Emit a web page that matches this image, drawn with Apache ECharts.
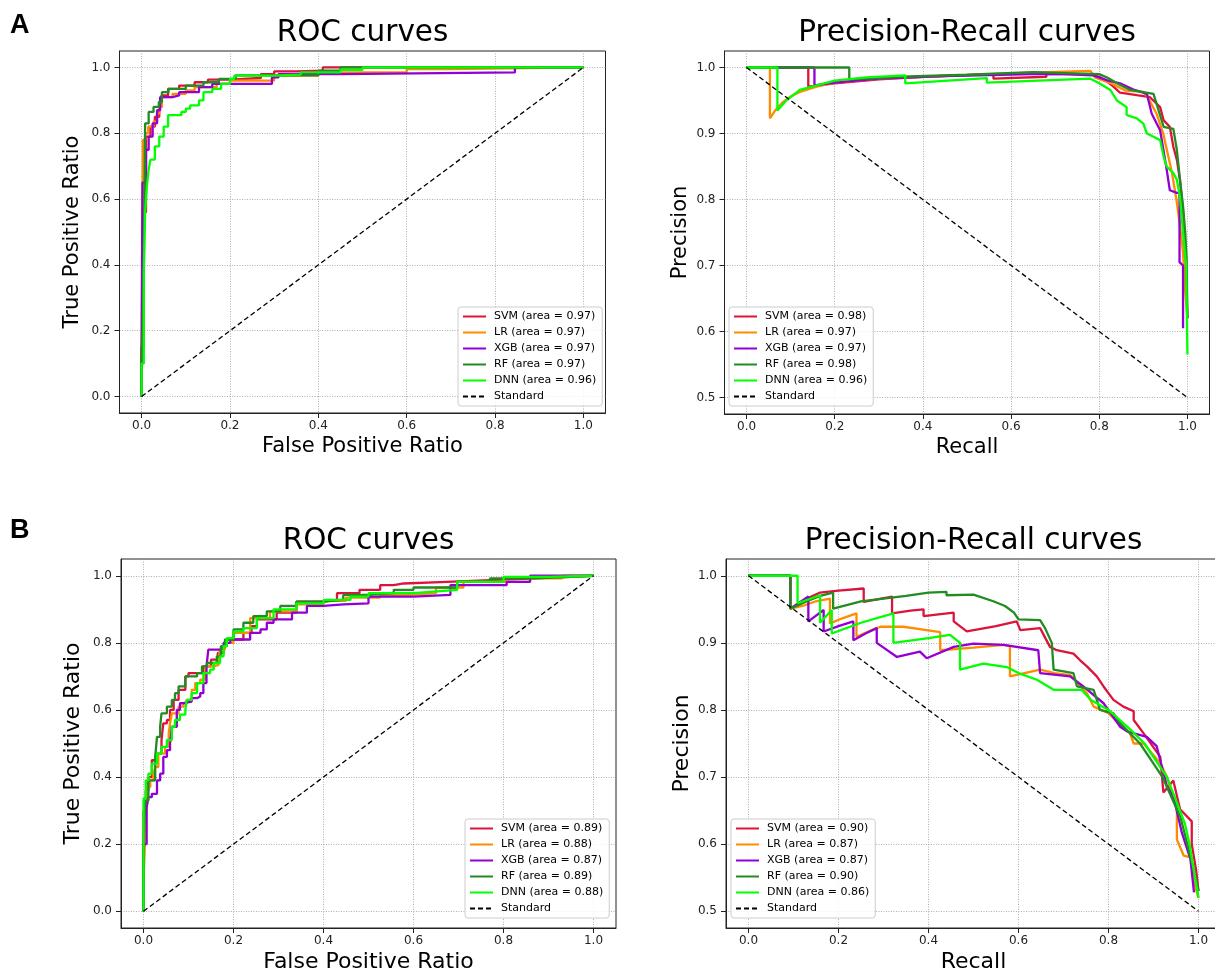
<!DOCTYPE html>
<html>
<head>
<meta charset="utf-8">
<title>ROC / PR curves</title>
<script src="https://cdn.jsdelivr.net/npm/echarts@6/dist/echarts.min.js"></script>
<style>
  html, body { margin: 0; padding: 0; background: #fff; }
  #main { width: 1215px; height: 975px; }
</style>
</head>
<body>
<div id="main"></div>
<script>
// model names and their areas per panel
const models = ['SVM', 'LR', 'XGB', 'RF', 'DNN']
const aucRocA = [0.97, 0.97, 0.97, 0.97, 0.96]
const aucPrA = [0.98, 0.97, 0.97, 0.98, 0.96]
const aucRocB = [0.89, 0.88, 0.87, 0.89, 0.88]
const aucPrB = [0.90, 0.87, 0.87, 0.90, 0.86]

const xTicks = [0, 0.2, 0.4, 0.6, 0.8, 1.0]
const rocTicks = [0, 0.2, 0.4, 0.6, 0.8, 1.0]
const prTicks = [0.5, 0.6, 0.7, 0.8, 0.9, 1.0]

const rocDiagonal = [[0, 0], [1, 1]]
const prDiagonal = [[0, 1], [1, 0.5]]

// --- A: ROC (fpr, tpr) riser tops, drawn as steps
const rocA_SVM = [[0, 0], [0, 0.15], [0.005, 0.56], [0.01, 0.79], [0.02, 0.82], [0.03, 0.85], [0.04, 0.88], [0.045, 0.915], [0.06, 0.935], [0.085, 0.945], [0.12, 0.955], [0.15, 0.963], [0.2, 0.968], [0.27, 0.98], [0.3, 0.988], [0.35, 0.99], [0.41, 1], [1, 1]]
const rocA_LR = [[0, 0], [0, 0.05], [0.003, 0.78], [0.008, 0.8], [0.015, 0.82], [0.027, 0.835], [0.035, 0.86], [0.04, 0.88], [0.046, 0.91], [0.07, 0.92], [0.1, 0.93], [0.12, 0.94], [0.17, 0.95], [0.2, 0.96], [0.3, 0.975], [0.4, 0.985], [0.6, 0.995], [0.7, 1], [1, 1]]
const rocA_XGB = [[0, 0], [0, 0.15], [0.002, 0.65], [0.01, 0.75], [0.016, 0.79], [0.025, 0.83], [0.035, 0.87], [0.042, 0.91], [0.07, 0.915], [0.085, 0.925], [0.13, 0.94], [0.16, 0.95], [0.295, 0.97], [0.31, 0.98], [0.45, 0.985], [0.845, 1], [1, 1]]
const rocA_RF = [[0, 0], [0, 0.14], [0.002, 0.19], [0.005, 0.38], [0.008, 0.83], [0.016, 0.865], [0.027, 0.88], [0.039, 0.895], [0.046, 0.925], [0.061, 0.935], [0.1, 0.945], [0.14, 0.955], [0.175, 0.965], [0.213, 0.976], [0.4, 0.99], [0.45, 1], [1, 1]]
const rocA_DNN = [[0, 0], [0, 0.1], [0.005, 0.38], [0.008, 0.56], [0.012, 0.64], [0.016, 0.69], [0.02, 0.72], [0.03, 0.76], [0.04, 0.79], [0.05, 0.82], [0.06, 0.855], [0.09, 0.865], [0.1, 0.875], [0.11, 0.885], [0.13, 0.9], [0.14, 0.925], [0.16, 0.935], [0.18, 0.95], [0.2, 0.965], [0.21, 0.975], [0.3, 0.978], [0.36, 0.985], [0.45, 0.993], [0.5, 1], [1, 1]]

// --- A: precision-recall (recall, precision)
const prA_SVM = [[0, 1], [0.14, 1], [0.14, 0.971], [0.2, 0.976], [0.3, 0.982], [0.4, 0.986], [0.56, 0.99], [0.56, 0.983], [0.68, 0.986], [0.68, 0.99], [0.78, 0.99], [0.8, 0.986], [0.815, 0.98], [0.832, 0.971], [0.847, 0.962], [0.885, 0.958], [0.915, 0.955], [0.938, 0.94], [0.946, 0.92], [0.96, 0.91], [0.968, 0.88], [0.976, 0.86], [0.983, 0.83], [0.99, 0.783], [0.995, 0.72], [0.998, 0.66], [1, 0.62]]
const prA_LR = [[0, 1], [0.053, 1], [0.053, 0.923], [0.065, 0.935], [0.083, 0.948], [0.1, 0.956], [0.121, 0.963], [0.159, 0.971], [0.2, 0.977], [0.3, 0.983], [0.4, 0.986], [0.55, 0.99], [0.68, 0.993], [0.78, 0.995], [0.79, 0.985], [0.83, 0.975], [0.86, 0.965], [0.9, 0.963], [0.91, 0.955], [0.93, 0.93], [0.945, 0.9], [0.955, 0.87], [0.965, 0.84], [0.975, 0.8], [0.983, 0.76], [0.99, 0.72], [0.995, 0.66], [1, 0.62]]
const prA_XGB = [[0, 1], [0.154, 1], [0.154, 0.973], [0.2, 0.977], [0.3, 0.983], [0.45, 0.987], [0.65, 0.99], [0.65, 0.987], [0.72, 0.99], [0.786, 0.988], [0.82, 0.98], [0.847, 0.976], [0.88, 0.966], [0.908, 0.96], [0.919, 0.93], [0.938, 0.905], [0.953, 0.845], [0.96, 0.814], [0.976, 0.81], [0.982, 0.81], [0.982, 0.705], [0.99, 0.7], [0.99, 0.605]]
const prA_RF = [[0, 1], [0.233, 1], [0.233, 0.982], [0.35, 0.986], [0.5, 0.989], [0.65, 0.993], [0.8, 0.99], [0.82, 0.984], [0.84, 0.976], [0.87, 0.966], [0.923, 0.96], [0.93, 0.945], [0.946, 0.91], [0.968, 0.907], [0.976, 0.875], [0.983, 0.83], [0.99, 0.79], [0.995, 0.75], [0.998, 0.71], [1, 0.62]]
const prA_DNN = [[0, 1], [0.07, 1], [0.07, 0.935], [0.09, 0.95], [0.121, 0.966], [0.159, 0.973], [0.2, 0.98], [0.272, 0.985], [0.36, 0.988], [0.36, 0.976], [0.545, 0.984], [0.545, 0.977], [0.78, 0.983], [0.8, 0.976], [0.825, 0.966], [0.84, 0.95], [0.862, 0.94], [0.862, 0.928], [0.885, 0.923], [0.9, 0.915], [0.908, 0.9], [0.923, 0.895], [0.938, 0.89], [0.946, 0.865], [0.953, 0.85], [0.968, 0.84], [0.976, 0.83], [0.983, 0.804], [0.99, 0.75], [0.997, 0.7], [1, 0.565]]

// --- B: ROC riser tops
const rocB_SVM = [[0, 0], [0, 0.3], [0.005, 0.36], [0.011, 0.4], [0.0185, 0.45], [0.03, 0.47], [0.04, 0.51], [0.044, 0.56], [0.052, 0.57], [0.059, 0.6], [0.067, 0.63], [0.078, 0.66], [0.093, 0.7], [0.1, 0.71], [0.133, 0.73], [0.15, 0.75], [0.165, 0.77], [0.178, 0.79], [0.185, 0.81], [0.222, 0.83], [0.24, 0.85], [0.252, 0.87], [0.296, 0.89], [0.34, 0.923], [0.4, 0.928], [0.43, 0.948], [0.48, 0.958], [0.526, 0.972], [0.556, 0.977], [0.578, 0.982], [0.674, 0.987], [0.77, 0.992], [0.867, 0.997], [0.95, 1], [1, 1]]
const rocB_LR = [[0, 0], [0, 0.09], [0.004, 0.23], [0.008, 0.37], [0.015, 0.39], [0.022, 0.41], [0.026, 0.43], [0.033, 0.47], [0.048, 0.49], [0.056, 0.53], [0.059, 0.56], [0.063, 0.59], [0.078, 0.61], [0.089, 0.62], [0.096, 0.63], [0.107, 0.66], [0.115, 0.68], [0.126, 0.69], [0.137, 0.73], [0.156, 0.734], [0.167, 0.755], [0.17, 0.78], [0.181, 0.8], [0.2, 0.83], [0.237, 0.874], [0.281, 0.894], [0.34, 0.915], [0.4, 0.925], [0.45, 0.935], [0.526, 0.943], [0.593, 0.948], [0.65, 0.965], [0.711, 0.982], [0.859, 0.992], [0.93, 1], [1, 1]]
const rocB_XGB = [[0, 0], [0, 0.2], [0.007, 0.31], [0.011, 0.34], [0.0185, 0.35], [0.03, 0.39], [0.037, 0.41], [0.044, 0.46], [0.052, 0.48], [0.059, 0.5], [0.063, 0.55], [0.074, 0.6], [0.081, 0.62], [0.089, 0.625], [0.107, 0.635], [0.119, 0.64], [0.126, 0.65], [0.133, 0.68], [0.14, 0.73], [0.144, 0.78], [0.17, 0.785], [0.178, 0.8], [0.193, 0.81], [0.237, 0.83], [0.26, 0.84], [0.274, 0.86], [0.289, 0.87], [0.33, 0.89], [0.363, 0.91], [0.4, 0.915], [0.444, 0.918], [0.5, 0.938], [0.6, 0.943], [0.682, 0.972], [0.807, 0.982], [0.859, 1], [1, 1]]
const rocB_RF = [[0, 0], [0, 0.19], [0.004, 0.33], [0.011, 0.39], [0.026, 0.46], [0.03, 0.52], [0.037, 0.55], [0.04, 0.59], [0.052, 0.61], [0.063, 0.63], [0.07, 0.65], [0.078, 0.67], [0.093, 0.7], [0.119, 0.71], [0.13, 0.73], [0.141, 0.74], [0.163, 0.76], [0.172, 0.79], [0.181, 0.81], [0.2, 0.84], [0.222, 0.86], [0.244, 0.88], [0.274, 0.894], [0.304, 0.91], [0.34, 0.923], [0.4, 0.928], [0.444, 0.943], [0.5, 0.948], [0.556, 0.958], [0.6, 0.965], [0.697, 0.982], [0.77, 0.992], [0.867, 0.997], [0.95, 1], [1, 1]]
const rocB_DNN = [[0, 0], [0, 0.336], [0.005, 0.39], [0.011, 0.41], [0.0185, 0.44], [0.03, 0.47], [0.04, 0.49], [0.052, 0.51], [0.063, 0.55], [0.07, 0.57], [0.081, 0.586], [0.093, 0.6], [0.096, 0.63], [0.107, 0.65], [0.119, 0.68], [0.133, 0.71], [0.148, 0.72], [0.156, 0.74], [0.17, 0.76], [0.178, 0.79], [0.185, 0.814], [0.2, 0.834], [0.222, 0.844], [0.252, 0.874], [0.289, 0.9], [0.34, 0.918], [0.4, 0.928], [0.46, 0.938], [0.5, 0.948], [0.6, 0.953], [0.645, 0.958], [0.697, 0.982], [0.8, 0.997], [0.9, 1], [1, 1]]

// --- B: precision-recall
const prB_SVM = [[0, 1], [0.093, 1], [0.093, 0.951], [0.13, 0.966], [0.159, 0.975], [0.2, 0.978], [0.256, 0.981], [0.256, 0.961], [0.319, 0.969], [0.319, 0.944], [0.36, 0.948], [0.389, 0.95], [0.389, 0.94], [0.456, 0.945], [0.456, 0.932], [0.485, 0.917], [0.55, 0.925], [0.596, 0.932], [0.604, 0.919], [0.648, 0.922], [0.67, 0.894], [0.685, 0.889], [0.722, 0.884], [0.737, 0.874], [0.752, 0.865], [0.774, 0.85], [0.789, 0.835], [0.811, 0.815], [0.833, 0.805], [0.856, 0.798], [0.856, 0.785], [0.878, 0.765], [0.915, 0.73], [0.922, 0.677], [0.944, 0.695], [0.959, 0.652], [0.985, 0.634], [0.985, 0.6], [0.995, 0.56], [1, 0.53]]
const prB_LR = [[0, 1], [0.093, 1], [0.093, 0.951], [0.12, 0.955], [0.15, 0.962], [0.181, 0.966], [0.181, 0.929], [0.21, 0.937], [0.24, 0.944], [0.24, 0.909], [0.27, 0.918], [0.293, 0.924], [0.344, 0.924], [0.396, 0.919], [0.426, 0.916], [0.426, 0.889], [0.5, 0.893], [0.567, 0.897], [0.581, 0.895], [0.581, 0.85], [0.648, 0.86], [0.68, 0.855], [0.715, 0.852], [0.752, 0.825], [0.767, 0.805], [0.8, 0.795], [0.848, 0.765], [0.856, 0.75], [0.878, 0.75], [0.915, 0.721], [0.93, 0.7], [0.952, 0.652], [0.952, 0.607], [0.967, 0.583], [0.985, 0.58], [0.988, 0.548], [1, 0.52]]
const prB_XGB = [[0, 1], [0.093, 1], [0.093, 0.951], [0.133, 0.969], [0.133, 0.932], [0.167, 0.949], [0.167, 0.917], [0.2, 0.925], [0.233, 0.932], [0.233, 0.904], [0.26, 0.914], [0.285, 0.922], [0.285, 0.9], [0.33, 0.879], [0.381, 0.887], [0.396, 0.877], [0.456, 0.894], [0.5, 0.899], [0.567, 0.897], [0.644, 0.889], [0.648, 0.855], [0.715, 0.85], [0.744, 0.835], [0.789, 0.81], [0.826, 0.775], [0.841, 0.768], [0.885, 0.76], [0.907, 0.746], [0.93, 0.686], [0.944, 0.672], [0.963, 0.617], [0.982, 0.578], [0.99, 0.528]]
const prB_RF = [[0, 1], [0.093, 1], [0.093, 0.951], [0.13, 0.962], [0.159, 0.97], [0.188, 0.975], [0.188, 0.951], [0.25, 0.962], [0.3, 0.966], [0.35, 0.97], [0.4, 0.975], [0.44, 0.976], [0.44, 0.971], [0.5, 0.972], [0.544, 0.962], [0.57, 0.955], [0.59, 0.945], [0.6, 0.935], [0.648, 0.934], [0.659, 0.922], [0.674, 0.9], [0.678, 0.86], [0.722, 0.855], [0.73, 0.835], [0.767, 0.83], [0.781, 0.8], [0.811, 0.795], [0.826, 0.78], [0.848, 0.765], [0.87, 0.75], [0.9, 0.72], [0.92, 0.7], [0.94, 0.67], [0.96, 0.64], [0.975, 0.6], [0.99, 0.56], [1, 0.53]]
const prB_DNN = [[0, 1], [0.109, 1], [0.109, 0.959], [0.159, 0.971], [0.159, 0.93], [0.185, 0.949], [0.185, 0.914], [0.25, 0.93], [0.322, 0.944], [0.322, 0.9], [0.4, 0.907], [0.448, 0.912], [0.47, 0.9], [0.47, 0.86], [0.522, 0.869], [0.574, 0.864], [0.6, 0.855], [0.641, 0.845], [0.678, 0.83], [0.74, 0.83], [0.761, 0.815], [0.8, 0.8], [0.85, 0.77], [0.88, 0.75], [0.91, 0.72], [0.93, 0.7], [0.95, 0.665], [0.97, 0.63], [0.98, 0.6], [0.99, 0.56], [1, 0.52]]

const colors = ['#dc143c', '#ff8c00', '#9400d3', '#228b22', '#00ff00']
const FONT = '"DejaVu Sans", sans-serif'

const panels = [
  { grid: { left: 119.5, top: 51, width: 486, height: 362 }, kind: 'roc', curves: [rocA_SVM, rocA_LR, rocA_XGB, rocA_RF, rocA_DNN], auc: aucRocA,
    title: 'ROC curves', tx: 362.5, ty: 33, xName: 'False Positive Ratio', yName: 'True Positive Ratio', xGap: 23, yGap: 36, nameSize: 21, legend: { left: 458, top: 307 } },
  { grid: { left: 724.5, top: 51, width: 485, height: 363 }, kind: 'pr', curves: [prA_SVM, prA_LR, prA_XGB, prA_RF, prA_DNN], auc: aucPrA,
    title: 'Precision-Recall curves', tx: 967, ty: 33, xName: 'Recall', yName: 'Precision', xGap: 23, yGap: 33, nameSize: 21, legend: { left: 729, top: 307 } },
  { grid: { left: 121, top: 559, width: 495, height: 369 }, kind: 'roc', curves: [rocB_SVM, rocB_LR, rocB_XGB, rocB_RF, rocB_DNN], auc: aucRocB,
    title: 'ROC curves', tx: 368.5, ty: 541, xName: 'False Positive Ratio', yName: 'True Positive Ratio', xGap: 23, yGap: 37, nameSize: 22, legend: { left: 465, top: 819 } },
  // right frame of this panel runs past the page edge, as in the source figure
  { grid: { left: 726, top: 559, width: 495, height: 369 }, kind: 'pr', curves: [prB_SVM, prB_LR, prB_XGB, prB_RF, prB_DNN], auc: aucPrB,
    title: 'Precision-Recall curves', tx: 973.5, ty: 541, xName: 'Recall', yName: 'Precision', xGap: 23, yGap: 33, nameSize: 22, legend: { left: 731, top: 819 } }
]

const grids = []
const xAxes = []
const yAxes = []
const series = []
const legends = []
const graphics = []

const tick = v => v.toFixed(1)

panels.forEach((p, i) => {
  const isRoc = p.kind === 'roc'
  const yTicks = isRoc ? rocTicks : prTicks
  grids.push(Object.assign({ show: true, borderColor: '#222', borderWidth: 1, backgroundColor: '#fff', containLabel: false, outerBoundsMode: 'none' }, p.grid))
  xAxes.push({
    gridIndex: i, type: 'value', min: -0.05, max: 1.05,
    name: p.xName, nameLocation: 'middle', nameGap: p.xGap,
    nameTextStyle: { fontSize: p.nameSize, color: '#000', fontFamily: FONT },
    axisLine: { show: true, onZero: false, lineStyle: { color: '#222', width: 1 } },
    axisTick: { show: true, length: 5, customValues: xTicks, lineStyle: { color: '#222' } },
    axisLabel: { customValues: xTicks, formatter: tick, fontSize: 12, color: '#222', margin: 7, fontFamily: FONT },
    splitLine: { show: true, lineStyle: { color: '#9a9a9a', type: [1, 1.5], width: 0.8 } }
  })
  yAxes.push({
    gridIndex: i, type: 'value',
    min: isRoc ? -0.05 : 0.475, max: isRoc ? 1.05 : 1.025,
    name: p.yName, nameLocation: 'middle', nameGap: p.yGap,
    nameTextStyle: { fontSize: p.nameSize, color: '#000', fontFamily: FONT },
    axisLine: { show: true, onZero: false, lineStyle: { color: '#222', width: 1 } },
    axisTick: { show: true, length: 5, customValues: yTicks, lineStyle: { color: '#222' } },
    axisLabel: { customValues: yTicks, formatter: tick, fontSize: 12, color: '#222', margin: 9, fontFamily: FONT },
    splitLine: { show: true, lineStyle: { color: '#9a9a9a', type: [1, 1.5], width: 0.8 } }
  })
  const names = []
  p.curves.forEach((c, k) => {
    const name = models[k] + ' (area = ' + p.auc[k].toFixed(2) + ')'
    names.push(name)
    series.push({
      name, type: 'line', xAxisIndex: i, yAxisIndex: i, data: c,
      step: isRoc ? 'end' : false, symbol: 'none', silent: true,
      lineStyle: { color: colors[k], width: 2.3 }, itemStyle: { color: colors[k] }
    })
  })
  names.push('Standard')
  series.push({
    name: 'Standard', type: 'line', xAxisIndex: i, yAxisIndex: i,
    data: isRoc ? rocDiagonal : prDiagonal, symbol: 'none', silent: true,
    lineStyle: { color: '#000', width: 1.3, type: [5, 3] }, itemStyle: { color: '#000' }
  })
  legends.push({
    left: p.legend.left, top: p.legend.top, orient: 'vertical', data: names,
    itemWidth: 23, itemHeight: 11, itemGap: 5, padding: [4, 6, 4, 4],
    backgroundColor: 'rgba(255,255,255,0.85)', borderColor: '#cccccc', borderWidth: 1, borderRadius: 3,
    selectedMode: false, itemStyle: { opacity: 0 },
    textStyle: { fontSize: 11, color: '#000', fontFamily: FONT, padding: [0, 0, 0, 3] }
  })
  graphics.push({
    type: 'text', x: p.tx, y: p.ty,
    style: { text: p.title, fill: '#000', fontSize: 29.5, fontFamily: FONT, align: 'center', verticalAlign: 'middle' }
  })
})

graphics.push({ type: 'text', x: 10, y: 26, style: { text: 'A', fill: '#000', fontSize: 27, fontWeight: 'bold', fontFamily: '"Liberation Sans Narrow", "Liberation Sans", sans-serif', verticalAlign: 'middle' } })
graphics.push({ type: 'text', x: 10, y: 531, style: { text: 'B', fill: '#000', fontSize: 27, fontWeight: 'bold', fontFamily: '"Liberation Sans Narrow", "Liberation Sans", sans-serif', verticalAlign: 'middle' } })

const chart = echarts.init(document.getElementById('main'))
chart.setOption({
  animation: false,
  backgroundColor: '#fff',
  grid: grids,
  xAxis: xAxes,
  yAxis: yAxes,
  legend: legends,
  series,
  graphic: graphics
})
</script>
</body>
</html>
